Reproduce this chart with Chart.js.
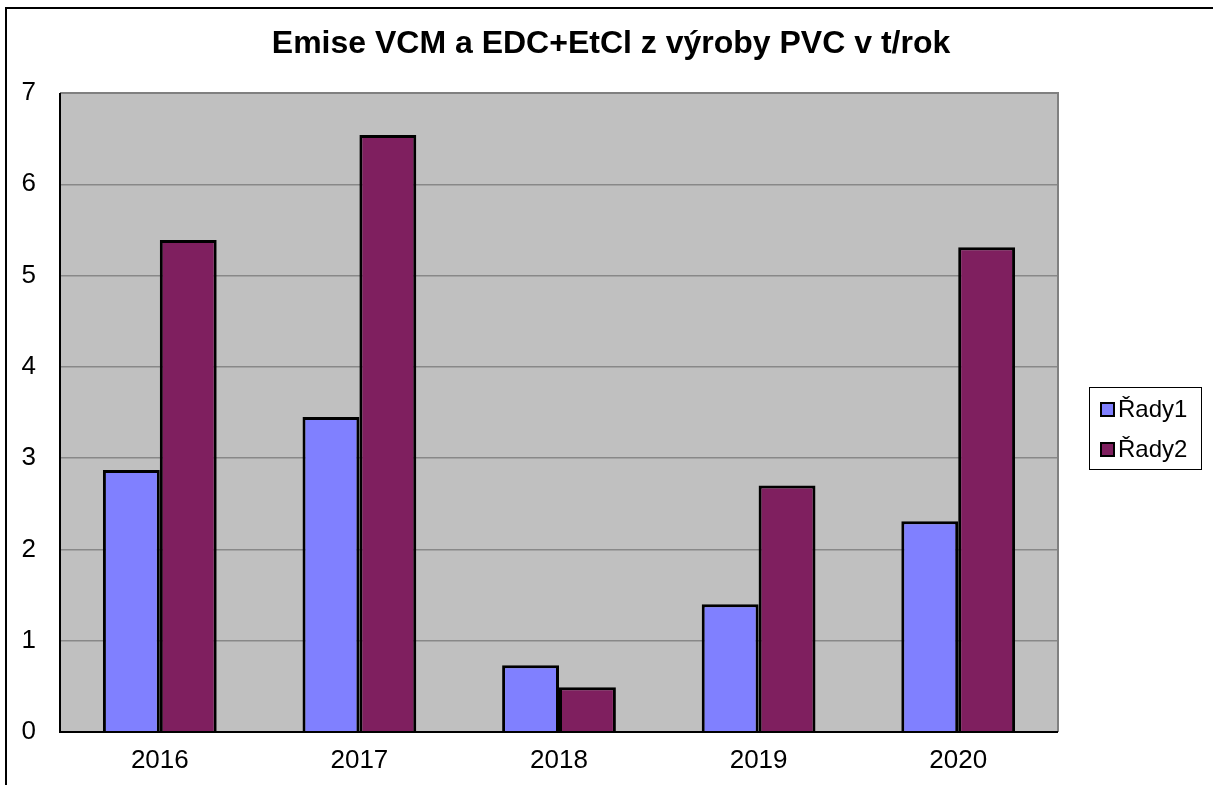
<!DOCTYPE html>
<html>
<head>
<meta charset="utf-8">
<script src="https://cdn.jsdelivr.net/npm/chart.js@4.4.1/dist/chart.umd.min.js"></script>
<style>
html,body{margin:0;padding:0;background:#fff;}
#wrap{width:1213px;height:785px;position:relative;}
</style>
</head>
<body>
<div id="wrap"><canvas id="c" width="1213" height="785"></canvas></div>
<script>
const titleText = "Emise VCM a EDC+EtCl z výroby PVC v t/rok";
const categories = ["2016", "2017", "2018", "2019", "2020"];
const seriesNames = ["Řady1", "Řady2"];
const rady1 = [2.87, 3.45, 0.73, 1.40, 2.31];
const rady2 = [5.39, 6.54, 0.49, 2.70, 5.31];
const yTicks = [0, 1, 2, 3, 4, 5, 6, 7];
const colors = ["#8080FF", "#7F1F5F"];

const FONT = "'Liberation Sans', Arial, sans-serif";

const decor = {
  id: 'decor',
  beforeDraw(chart) {
    const {ctx, chartArea: a} = chart;
    ctx.save();
    ctx.fillStyle = '#fff';
    ctx.fillRect(0, 0, chart.width, chart.height);
    ctx.strokeStyle = '#000';
    ctx.lineWidth = 2;
    ctx.beginPath();
    ctx.moveTo(6, chart.height + 5);
    ctx.lineTo(6, 8);
    ctx.lineTo(chart.width + 5, 8);
    ctx.stroke();
    ctx.fillStyle = '#C0C0C0';
    ctx.fillRect(a.left, a.top, a.right - a.left, a.bottom - a.top);
    ctx.restore();
  },
  afterDatasetsDraw(chart) {
    const {ctx, chartArea: a} = chart;
    ctx.save();
    ctx.strokeStyle = '#808080';
    ctx.lineWidth = 2;
    ctx.beginPath();
    ctx.moveTo(a.right, a.bottom);
    ctx.lineTo(a.right, a.top);
    ctx.lineTo(a.left, a.top);
    ctx.stroke();
    ctx.strokeStyle = '#000';
    ctx.lineWidth = 2;
    ctx.beginPath();
    ctx.moveTo(a.left, a.top);
    ctx.lineTo(a.left, a.bottom);
    ctx.lineTo(a.right, a.bottom);
    ctx.stroke();
    // title
    ctx.fillStyle = '#000';
    ctx.font = "bold 32px " + FONT;
    ctx.textAlign = 'center';
    ctx.textBaseline = 'middle';
    ctx.fillText(titleText, 611, 44);
    // legend
    const lx = 1089, ly = 387, lw = 112, lh = 82;
    ctx.fillStyle = '#fff';
    ctx.fillRect(lx, ly, lw, lh);
    ctx.strokeStyle = '#000';
    ctx.lineWidth = 1;
    ctx.strokeRect(lx + 0.5, ly + 0.5, lw, lh);
    ctx.font = "24px " + FONT;
    ctx.textAlign = 'left';
    seriesNames.forEach((name, i) => {
      const cy = 409 + i * 40;
      ctx.fillStyle = colors[i];
      ctx.fillRect(1101, cy - 6, 13, 13);
      ctx.strokeStyle = '#000';
      ctx.lineWidth = 2;
      ctx.strokeRect(1101, cy - 6, 13, 13);
      ctx.fillStyle = '#000';
      ctx.fillText(name, 1118, cy + 1);
    });
    ctx.restore();
  }
};

new Chart(document.getElementById('c'), {
  type: 'bar',
  data: {
    labels: categories,
    datasets: [
      { label: seriesNames[0], data: rady1, backgroundColor: colors[0], borderColor: '#000', borderWidth: 3, borderSkipped: 'bottom' },
      { label: seriesNames[1], data: rady2, backgroundColor: colors[1], borderColor: '#000', borderWidth: 3, borderSkipped: 'bottom' }
    ]
  },
  options: {
    responsive: false,
    animation: false,
    devicePixelRatio: 1,
    layout: { padding: { left: 0, right: 155, top: 93, bottom: 0 } },
    plugins: { legend: { display: false }, title: { display: false }, tooltip: { enabled: false } },
    datasets: { bar: { categoryPercentage: 0.57, barPercentage: 1.0 } },
    scales: {
      x: {
        grid: { display: false, drawTicks: false },
        border: { display: false },
        ticks: { color: '#000', font: { family: FONT, size: 26 }, padding: 13, maxRotation: 0 },
        afterFit(s) { s.height = 53; }
      },
      y: {
        min: 0, max: 7,
        afterBuildTicks(s) { s.ticks = yTicks.map(v => ({ value: v })); },
        grid: { color: '#888888', lineWidth: 1.5, drawTicks: false },
        border: { display: false },
        ticks: { color: '#000', font: { family: FONT, size: 26 }, padding: 24 },
        afterFit(s) { s.width = 60; }
      }
    }
  },
  plugins: [decor]
});
</script>
</body>
</html>
